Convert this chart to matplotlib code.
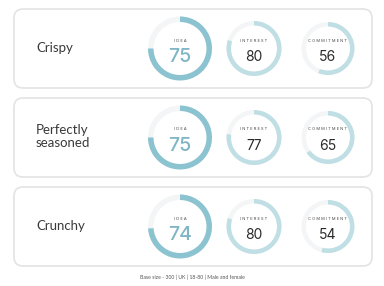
import matplotlib.pyplot as plt
from matplotlib.patches import FancyBboxPatch, Wedge

W, H = 384, 286

categories = ["Crispy", "Perfectly\nseasoned", "Crunchy"]
metrics = ["I D E A", "I N T E R E S T", "C O M M I T M E N T"]
idea = [75, 75, 74]
interest = [80, 77, 80]
commitment = [56, 65, 54]
footer = "Base size - 300 | UK | 18-80 | Male and female"

# card layout in pixel units (top-down)
card_tops = [9, 98, 187]
card_h = 79
card_x0, card_x1 = 14, 372
ring_x = [180, 254, 328]
ring_r = [32, 27.5, 26.5]
ring_w = [5.5, 4.5, 4.5]

TEAL = "#8cc3d0"
LIGHT = "#bfdfe5"
TRACK = "#f4f5f6"


def ring(ax, cx, cy, r, w, frac, color):
    ax.add_patch(Wedge((cx, cy), r, 0, 360, width=w, facecolor=TRACK, edgecolor="none"))
    ax.add_patch(Wedge((cx, cy), r, 90 - 360 * frac, 90, width=w,
                       facecolor=color, edgecolor="none"))


def main():
    fig = plt.figure(figsize=(W / 100, H / 100), dpi=100)
    ax = fig.add_axes([0, 0, 1, 1])
    ax.set_xlim(0, W)
    ax.set_ylim(0, H)
    ax.set_aspect("equal")
    ax.axis("off")

    rows = list(zip(idea, interest, commitment))
    for i, cat in enumerate(categories):
        top = H - card_tops[i]
        bottom = top - card_h
        cy = (top + bottom) / 2
        ax.add_patch(FancyBboxPatch((card_x0, bottom), card_x1 - card_x0, card_h,
                                    boxstyle="round,pad=0,rounding_size=9",
                                    facecolor="white", edgecolor="#e3e3e3", linewidth=1.2))
        ax.text(36, cy + 1, cat, ha="left", va="center", fontsize=9.5,
                family="Lato", color="#3a3a3a", linespacing=1.15)

        for j, val in enumerate(rows[i]):
            cx = ring_x[j]
            col = TEAL if j == 0 else LIGHT
            ring(ax, cx, cy, ring_r[j], ring_w[j], val / 100, col)
            ax.text(cx, cy + 8, metrics[j], ha="center", va="center",
                    fontsize=2.9, family="Inter", color="#444444")
            if j == 0:
                ax.text(cx, cy - 8.5, str(val), ha="center", va="center",
                        fontsize=14, family="Inter", weight="medium", color="#7fb5c4")
            else:
                ax.text(cx, cy - 8.5, str(val), ha="center", va="center",
                        fontsize=10, family="Inter", color="#2b2b2b")

    ax.text(192, H - 277, footer, ha="center", va="center", fontsize=3.7,
            family="Lato", color="#555555")

    fig.savefig("out.png", dpi=100, facecolor="white")


if __name__ == "__main__":
    main()
